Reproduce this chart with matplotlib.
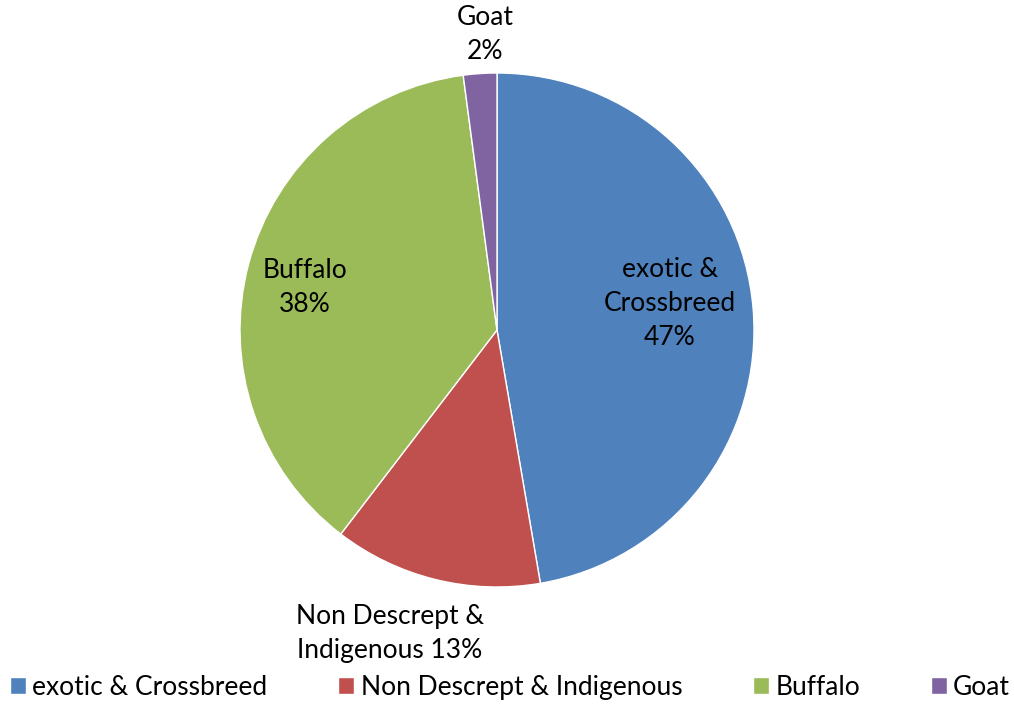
import matplotlib
matplotlib.use("Agg")
import matplotlib.pyplot as plt

plt.rcParams['font.family'] = ['Lato', 'DejaVu Sans']

# data
categories = ['exotic & Crossbreed', 'Non Descrept & Indigenous', 'Buffalo', 'Goat']
shares = [47.3, 13.1, 37.5, 2.1]
label_texts = ['exotic &\nCrossbreed\n47%', 'Non Descrept &\nIndigenous 13%', 'Buffalo\n38%', 'Goat\n2%']
colors = ['#4F81BD', '#C0504D', '#9BBB59', '#8064A2']

W, H = 1014, 704
fig = plt.figure(figsize=(W / 100, H / 100), dpi=100)

# pie centre and radius in pixels
cx, cy, r = 497, 330, 257
ax = fig.add_axes([(cx - r) / W, (H - cy - r) / H, 2 * r / W, 2 * r / H])

wedges, _ = ax.pie(shares, colors=colors, startangle=90, counterclock=False,
                   wedgeprops=dict(edgecolor='white', linewidth=1))
ax.set_xlim(-1, 1)
ax.set_ylim(-1, 1)

# label spots (data coords, radius = 1)
label_pos = [(0.673, 0.105), (-0.416, -1.18), (-0.747, 0.167), (-0.047, 1.148)]
for txt, (x, y) in zip(label_texts, label_pos):
    ax.text(x, y, txt, ha='center', va='center', fontsize=19,
            linespacing=1.45, color='#000000')

fig.legend(wedges, categories, loc='center', bbox_to_anchor=(0.503, 0.024),
           ncol=4, frameon=False, fontsize=19, handlelength=0.6, handleheight=0.6,
           handletextpad=0.25, columnspacing=2.68, borderpad=0, borderaxespad=0)

fig.savefig('out.png', dpi=100)
